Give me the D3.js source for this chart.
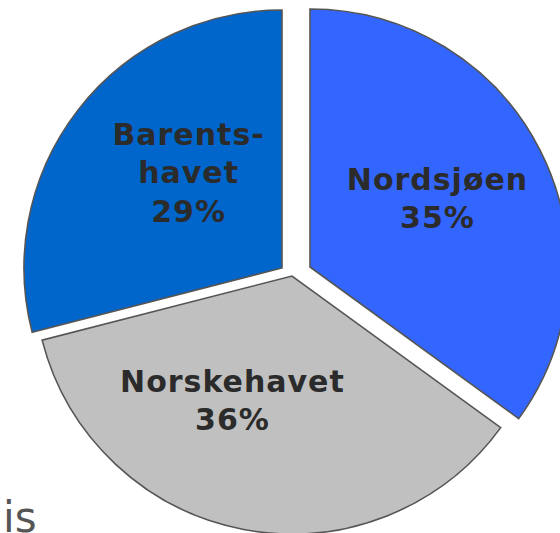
<!DOCTYPE html>
<html>
<head>
<meta charset="utf-8">
<script src="https://cdn.jsdelivr.net/npm/d3@7/dist/d3.min.js"></script>
<style>
  html, body { margin: 0; padding: 0; background: #fff; }
  svg { display: block; }
</style>
</head>
<body>
<div id="chart"></div>
<script>
// data
var regions = ["Nordsjøen", "Norskehavet", "Barentshavet"];
var shares = [35, 36, 29];
var labelLines = [["Nordsjøen"], ["Norskehavet"], ["Barents-", "havet"]];

// colors per slice
var colors = ["#3366ff", "#c0c0c0", "#0066cc"];

var width = 560, height = 533;
var cx = 294, cy = 271, radius = 258;

// explode offsets (dx, dy) for each slice
var explode = [[16, -4], [-2, 5], [-12, -3]];
// label placement: angle tweak (deg) and distance from slice apex
var labelPlace = [[-1.5, 144.5], [15, 138], [7.7, 134]];

var svg = d3.select("#chart").append("svg")
  .attr("width", width).attr("height", height);

var pie = d3.pie().sort(null).value(function(d) { return d; });
var arcs = pie(shares);

var arc = d3.arc().innerRadius(0).outerRadius(radius);

var g = svg.append("g");

var slice = g.selectAll(".slice")
  .data(arcs)
  .enter().append("g")
  .attr("class", "slice")
  .attr("transform", function(d, i) {
    return "translate(" + (cx + explode[i][0]) + "," + (cy + explode[i][1]) + ")";
  });

slice.append("path")
  .attr("d", arc)
  .attr("fill", function(d, i) { return colors[i]; })
  .attr("stroke", "#555")
  .attr("stroke-width", 1.6)
  .attr("stroke-linejoin", "miter");

var lineH = 38.5;
slice.append("text")
  .attr("font-family", "'DejaVu Sans', sans-serif")
  .attr("font-weight", "bold")
  .attr("font-size", 30)
  .attr("letter-spacing", 1)
  .attr("fill", "#2b2b2b")
  .attr("text-anchor", "middle")
  .attr("transform", function(d, i) {
    var a = (d.startAngle + d.endAngle) / 2 + labelPlace[i][0] * Math.PI / 180;
    var r = labelPlace[i][1];
    return "translate(" + (Math.sin(a) * r + 0.5) + "," + (-Math.cos(a) * r) + ")";
  })
  .each(function(d, i) {
    var lines = labelLines[i].concat([d.value + "%"]);
    var t = d3.select(this);
    var y0 = -(lines.length - 1) * lineH / 2 + 11;
    lines.forEach(function(s, k) {
      t.append("tspan").attr("x", 0).attr("y", y0 + k * lineH).text(s);
    });
  });

// stray text at bottom-left
svg.append("text")
  .attr("x", 3)
  .attr("y", 532)
  .attr("font-family", "'DejaVu Sans', sans-serif")
  .attr("font-size", 42)
  .attr("fill", "#555")
  .text("is");
</script>
</body>
</html>
